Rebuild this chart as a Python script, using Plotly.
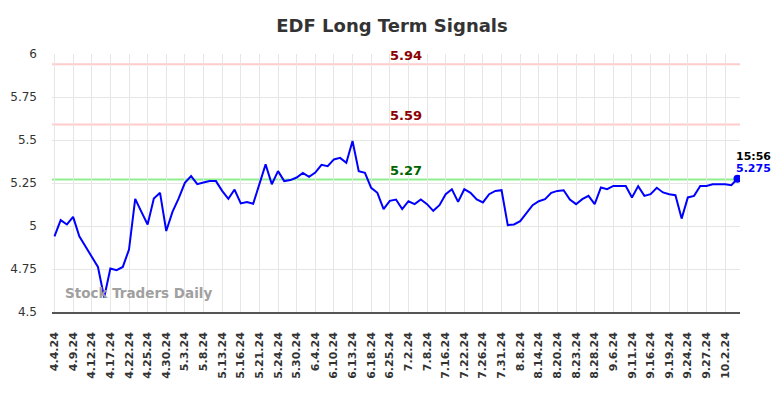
import plotly.graph_objects as go

# ---------------- data ----------------
tick_labels = ["4.4.24", "4.9.24", "4.12.24", "4.17.24", "4.22.24", "4.25.24", "4.30.24",
               "5.3.24", "5.8.24", "5.13.24", "5.16.24", "5.21.24", "5.24.24", "5.30.24",
               "6.4.24", "6.10.24", "6.13.24", "6.18.24", "6.25.24", "7.2.24", "7.8.24",
               "7.16.24", "7.22.24", "7.26.24", "7.31.24", "8.8.24", "8.14.24", "8.20.24",
               "8.23.24", "8.28.24", "9.6.24", "9.11.24", "9.16.24", "9.19.24", "9.24.24",
               "9.27.24", "10.2.24"]
tick_step = 3  # one labelled date every 3 sessions

prices = [4.94, 5.034, 5.009, 5.053, 4.94, 4.878, 4.824, 4.762, 4.584, 4.753,
          4.743, 4.762, 4.863, 5.158, 5.082, 5.009, 5.160, 5.193, 4.971, 5.082,
          5.160, 5.251, 5.290, 5.243, 5.253, 5.261, 5.261, 5.204, 5.158, 5.212,
          5.131, 5.139, 5.129, 5.247, 5.358, 5.243, 5.319, 5.261, 5.267, 5.282,
          5.309, 5.286, 5.311, 5.356, 5.348, 5.387, 5.396, 5.367, 5.494, 5.319,
          5.309, 5.222, 5.193, 5.098, 5.146, 5.154, 5.098, 5.144, 5.127, 5.154,
          5.127, 5.088, 5.121, 5.185, 5.214, 5.140, 5.214, 5.193, 5.154, 5.137,
          5.185, 5.204, 5.208, 5.005, 5.009, 5.028, 5.073, 5.121, 5.144, 5.156,
          5.193, 5.204, 5.208, 5.154, 5.127, 5.156, 5.175, 5.127, 5.224, 5.214,
          5.233, 5.233, 5.233, 5.166, 5.232, 5.175, 5.185, 5.222, 5.195, 5.185,
          5.179, 5.043, 5.166, 5.175, 5.233, 5.233, 5.243, 5.243, 5.243, 5.237,
          5.275]

signal_levels = [5.94, 5.59, 5.27]
signal_colors = ["#ffcccc", "#ffcccc", "#90ee90"]
signal_text_colors = ["#8b0000", "#8b0000", "#006400"]

last_time = "15:56"
last_value = 5.275

y_ticks = [4.5, 4.75, 5, 5.25, 5.5, 5.75, 6]
y_tick_text = ["4.5", "4.75", "5", "5.25", "5.5", "5.75", "6"]

# ---------------- figure ----------------
x_idx = list(range(len(prices)))
tick_vals = [i * tick_step for i in range(len(tick_labels))]

fig = go.Figure()
fig.add_trace(go.Scatter(x=x_idx, y=prices, mode="lines",
                         line=dict(color="#0000ff", width=2), hoverinfo="skip"))
fig.add_trace(go.Scatter(x=[x_idx[-1]], y=[last_value], mode="markers",
                         marker=dict(color="#0000ff", size=8), hoverinfo="skip"))

for lvl, c, tc in zip(signal_levels, signal_colors, signal_text_colors):
    fig.add_shape(type="line", xref="paper", x0=0, x1=1, yref="y", y0=lvl, y1=lvl,
                  line=dict(color=c, width=2), layer="below")
    fig.add_annotation(xref="paper", x=0.514, y=lvl, yref="y", text=f"<b>{lvl:.2f}</b>",
                       showarrow=False, yshift=9, font=dict(size=13, color=tc,
                       family="DejaVu Sans"))

fig.add_annotation(x=x_idx[-1], y=last_value, text=f"<b>{last_time}</b>", showarrow=False,
                   xanchor="left", yanchor="middle", xshift=-4, yshift=22,
                   font=dict(size=11, color="#000000", family="DejaVu Sans"))
fig.add_annotation(x=x_idx[-1], y=last_value, text=f"<b>{last_value}</b>", showarrow=False,
                   xanchor="left", yanchor="middle", xshift=-4, yshift=10,
                   font=dict(size=11, color="#0000ff", family="DejaVu Sans"))

fig.add_annotation(xref="paper", yref="paper", x=0.126, y=0.035, xanchor="center",
                   text="<b>Stock Traders Daily</b>", showarrow=False,
                   font=dict(size=13.5, color="#a0a0a0", family="DejaVu Sans"))

fig.update_layout(
    width=784, height=398,
    margin=dict(l=52, r=44, t=54, b=86, autoexpand=False),
    paper_bgcolor="white", plot_bgcolor="white",
    showlegend=False,
    title=dict(text="<b>EDF Long Term Signals</b>", x=0.5, xanchor="center",
               y=0.935, yanchor="middle",
               font=dict(size=18, color="#333333", family="DejaVu Sans")),
    font=dict(family="DejaVu Sans"),
)
fig.update_xaxes(range=[-0.4, len(prices) - 0.6], tickmode="array",
                 tickvals=tick_vals, ticktext=[f"<b>{t}</b>" for t in tick_labels],
                 tickangle=-90, tickfont=dict(size=11, color="#333333"),
                 showgrid=True, gridcolor="#e6e6e6", gridwidth=1,
                 showline=True, linecolor="#555555", linewidth=1.5,
                 ticks="", ticklabelstandoff=14, zeroline=False, automargin=False)
fig.update_yaxes(range=[4.5, 6], tickmode="array", tickvals=y_ticks, ticktext=y_tick_text,
                 tickfont=dict(size=12, color="#333333"),
                 showgrid=True, gridcolor="#e6e6e6", gridwidth=1,
                 ticks="", ticklabelstandoff=14, zeroline=False, showline=False,
                 automargin=False)

fig.write_html("out.html", config={"displayModeBar": False},
               post_script="document.body.style.margin='0';")
